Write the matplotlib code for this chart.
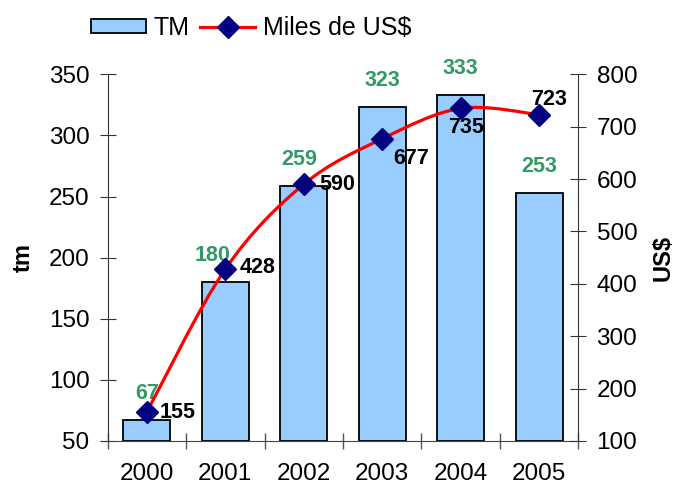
import matplotlib.pyplot as plt
import numpy as np
from matplotlib.path import Path
from matplotlib.patches import PathPatch, Patch
from matplotlib.lines import Line2D

years = ["2000", "2001", "2002", "2003", "2004", "2005"]
tm = [67, 180, 259, 323, 333, 253]
miles_usd = [155, 428, 590, 677, 735, 723]

plt.rcParams["font.family"] = ["Liberation Sans", "DejaVu Sans"]

fig = plt.figure(figsize=(6.74, 4.86), dpi=100)
ax = fig.add_axes([0.1595, 0.0926, 0.6988, 0.7545])
ax2 = ax.twinx()

x = np.arange(len(years))
ax.bar(x, [v - 50 for v in tm], bottom=50, width=0.6, color="#99CCFF",
       edgecolor="black", linewidth=1.3, zorder=2)
ax.set_xlim(-0.5, len(years) - 0.5)
ax.set_ylim(50, 350)
ax.set_yticks(range(50, 351, 50))
ax.set_xticks(x)
ax.set_xticklabels(years)
ax.set_xticks(np.arange(-0.5, len(years), 1), minor=True)
ax.tick_params(axis="x", which="major", length=0, pad=16, labelsize=17.5)
ax.tick_params(axis="x", which="minor", length=11, direction="inout",
               color="#555555", width=1)
ax.tick_params(axis="y", direction="inout", length=12, labelsize=17.5, pad=7,
               color="#333333")
ax.set_ylabel("tm", fontsize=17, fontweight="bold", labelpad=10)

for s in ["top", "right"]:
    ax.spines[s].set_visible(False)
for s in ["top", "left", "bottom"]:
    ax2.spines[s].set_visible(False)
ax.spines["bottom"].set_color("#444444")
ax.spines["left"].set_color("#333333")
ax2.spines["right"].set_color("#333333")

# bar value labels (green), a few nudged like the original
bar_dx = [0, -9, -3, 0, 0, 0]
for xi, v, dx in zip(x, tm, bar_dx):
    ax.annotate(str(v), (xi, v), xytext=(dx, 19), textcoords="offset points",
                ha="center", va="center", color="#339966",
                fontsize=15.5, fontweight="bold")

ax2.set_ylim(100, 800)
ax2.set_yticks(range(100, 801, 100))
ax2.tick_params(axis="y", direction="inout", length=12, labelsize=17.5, pad=7,
                color="#333333")
ax2.set_ylabel("US$", fontsize=17, fontweight="bold", labelpad=10)

# smoothed line (Catmull-Rom as cubic Bezier through the data points)
pts = np.column_stack([x, miles_usd]).astype(float)
verts = [pts[0]]
codes = [Path.MOVETO]
for i in range(len(pts) - 1):
    p0 = pts[i - 1] if i > 0 else pts[i]
    p1 = pts[i]
    p2 = pts[i + 1]
    p3 = pts[i + 2] if i + 2 < len(pts) else pts[i + 1]
    verts += [p1 + (p2 - p0) / 6, p2 - (p3 - p1) / 6, p2]
    codes += [Path.CURVE4] * 3
ax2.add_patch(PathPatch(Path(verts, codes), facecolor="none", edgecolor="red",
                        linewidth=2.3, zorder=3))
ax2.plot(x, miles_usd, linestyle="none", marker="D", markersize=11,
         color="#000080", zorder=4)

# line value labels (black), offsets in points from each marker
offsets = [(9, 0, "left"), (10, 1, "left"), (11, 0, "left"),
           (8, -14, "left"), (4, -14, "center"), (7, 11, "center")]
for xi, v, (dx, dy, ha) in zip(x, miles_usd, offsets):
    ax2.annotate(str(v), (xi, v), xytext=(dx, dy), textcoords="offset points",
                 ha=ha, va="center", fontsize=15.5, fontweight="bold",
                 color="black", zorder=5)

handles = [Patch(facecolor="#99CCFF", edgecolor="black", linewidth=1.3),
           Line2D([0], [0], color="red", linewidth=2.3, marker="D",
                  markersize=11, markerfacecolor="#000080",
                  markeredgecolor="#000080")]
fig.legend(handles, ["TM", "Miles de US$"], loc="center", ncol=2,
           bbox_to_anchor=(251 / 674, 1 - 28 / 486), frameon=False,
           fontsize=18, handlelength=2.2, handleheight=0.5,
           columnspacing=0.45, handletextpad=0.3, borderpad=0)

fig.savefig("out.png", dpi=100)
